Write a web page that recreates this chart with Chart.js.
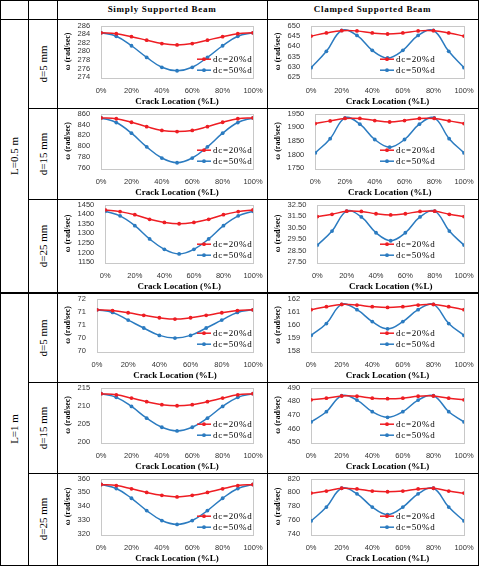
<!DOCTYPE html>
<html>
<head>
<meta charset="utf-8">
<script src="https://cdn.jsdelivr.net/npm/chart.js@4/dist/chart.umd.min.js"></script>
<style>
  body { margin: 0; background: #fff; width: 480px; height: 566px; position: relative; overflow: hidden; font-family: "Liberation Serif", serif; }
  .ln { position: absolute; background: #000; z-index: 2; }
  .cell { position: absolute; }
  .hdr { position: absolute; top: 4px; font-weight: bold; font-size: 9px; letter-spacing: 0.7px; text-align: center; }
  .rot { position: absolute; transform: translate(-50%, -50%) rotate(-90deg); white-space: nowrap; font-size: 11px; }
</style>
</head>
<body>
<div class="hdr" style="left:57px;width:210px;">Simply Supported Beam</div>
<div class="hdr" style="left:267px;width:211px;">Clamped Supported Beam</div>
<div class="rot" style="left:14px;top:156px;">L=0.5 m</div>
<div class="rot" style="left:14px;top:429px;">L=1 m</div>
<div id="wrap"></div>

<script>
// crack position along the beam (% of L)
const crackLocation = [0, 10, 20, 30, 40, 50, 60, 70, 80, 90, 100];
const seriesNames = ['dc=20%d', 'dc=50%d'];
const rowLabels = ['d=5 mm', 'd=15 mm', 'd=25 mm', 'd=5 mm', 'd=15 mm', 'd=25 mm'];

// L = 0.5 m, simply supported
const ssL05d5_20 = [284.3, 284.1, 283.4, 282.6, 281.8, 281.5, 281.8, 282.6, 283.4, 284.1, 284.3];
const ssL05d5_50 = [284.3, 283.5, 281.3, 278.6, 276.3, 275.5, 276.3, 278.6, 281.3, 283.5, 284.3];
const ssL05d15_20 = [852, 850.4, 844, 836, 829, 827, 829, 836, 844, 850.4, 852];
const ssL05d15_50 = [852, 843.5, 824, 799, 778.6, 770, 778.6, 799, 824, 843.5, 852];
const ssL05d25_20 = [1422, 1413, 1397, 1373, 1357, 1350, 1357, 1373, 1397, 1413, 1422];
const ssL05d25_50 = [1415, 1391, 1340, 1271, 1217, 1193, 1217, 1271, 1340, 1391, 1415];
// L = 0.5 m, clamped
const csL05d5_20 = [644.9, 646.4, 647.5, 647.4, 646.4, 645.9, 646.4, 647.4, 647.5, 646.4, 644.9];
const csL05d5_50 = [629.6, 637.5, 647.6, 645.2, 638.0, 634.3, 638.0, 645.2, 647.6, 637.5, 629.6];
const csL05d15_20 = [1913, 1923, 1932, 1932, 1924, 1919, 1924, 1932, 1932, 1923, 1913];
const csL05d15_50 = [1806, 1858, 1934, 1911, 1855, 1827, 1855, 1911, 1934, 1858, 1806];
const csL05d25_20 = [31.45, 31.65, 31.92, 31.9, 31.7, 31.6, 31.7, 31.9, 31.92, 31.65, 31.45];
const csL05d25_50 = [28.98, 30.2, 31.92, 31.42, 30.05, 29.36, 30.05, 31.42, 31.92, 30.2, 28.98];
// L = 1 m, simply supported
const ssL1d5_20 = [71.07, 71.04, 70.96, 70.86, 70.77, 70.72, 70.77, 70.86, 70.96, 71.04, 71.07];
const ssL1d5_50 = [71.07, 70.97, 70.68, 70.38, 70.1, 70.0, 70.1, 70.38, 70.68, 70.97, 71.07];
const ssL1d15_20 = [213.3, 213.0, 212.1, 211.1, 210.3, 210.0, 210.3, 211.1, 212.1, 213.0, 213.3];
const ssL1d15_50 = [213.3, 212.3, 209.8, 206.6, 204.1, 203.1, 204.1, 206.6, 209.8, 212.3, 213.3];
const ssL1d25_20 = [355.7, 354.9, 352.6, 350.0, 347.9, 346.8, 347.9, 350.0, 352.6, 354.9, 355.7];
const ssL1d25_50 = [355.7, 352.8, 345.8, 337.0, 329.8, 327.0, 329.8, 337.0, 345.8, 352.8, 355.7];
// L = 1 m, clamped
const csL1d5_20 = [161.15, 161.38, 161.55, 161.5, 161.38, 161.32, 161.38, 161.5, 161.55, 161.38, 161.15];
const csL1d5_50 = [159.2, 160.1, 161.55, 161.15, 160.25, 159.7, 160.25, 161.15, 161.55, 160.1, 159.2];
const csL1d15_20 = [481.0, 482.2, 483.8, 483.6, 482.2, 481.8, 482.2, 483.6, 483.8, 482.2, 481.0];
const csL1d15_50 = [464.8, 472.3, 484.0, 480.8, 472.3, 468.2, 472.3, 480.8, 484.0, 472.3, 464.8];
const csL1d25_20 = [799, 802, 806, 805, 802, 801, 802, 805, 806, 802, 799];
const csL1d25_50 = [759, 779, 806, 798, 779, 768, 779, 798, 806, 779, 759];

// y axis ranges per row: [min, max, step]
const ssAxes = [[274, 286, 2], [760, 860, 20], [1150, 1450, 50], [69.5, 71.5, 0.5], [200, 215, 5], [320, 360, 10]];
const csAxes = [[625, 650, 5], [1750, 1950, 50], [27.5, 32.5, 1], [158, 162, 1], [450, 490, 10], [740, 820, 20]];

const ssData = [[ssL05d5_20, ssL05d5_50], [ssL05d15_20, ssL05d15_50], [ssL05d25_20, ssL05d25_50],
                [ssL1d5_20, ssL1d5_50], [ssL1d15_20, ssL1d15_50], [ssL1d25_20, ssL1d25_50]];
const csData = [[csL05d5_20, csL05d5_50], [csL05d15_20, csL05d15_50], [csL05d25_20, csL05d25_50],
                [csL1d5_20, csL1d5_50], [csL1d15_20, csL1d15_50], [csL1d25_20, csL1d25_50]];

const RED = '#ee1d23';
const BLUE = '#2b7bc0';

// table geometry
const rowY = [20, 108, 199, 293, 382, 473, 565];
const colX = [0, 28, 57, 267, 478];

const wrap = document.getElementById('wrap');
function addLine(x, y, w, h) {
  const d = document.createElement('div');
  d.className = 'ln';
  d.style.cssText = `left:${x}px;top:${y}px;width:${w}px;height:${h}px;`;
  wrap.appendChild(d);
}
addLine(0, 0, 479, 1);
addLine(0, 19, 479, 1);
addLine(0, 292, 479, 2);
addLine(0, 565, 479, 1);
[1, 2, 4, 5].forEach(i => addLine(28, rowY[i], 451, 1));
colX.forEach(x => addLine(x, 0, 1, 566));

// box around plot area + legend inside the plot
const plotBox = {
  id: 'plotBox',
  beforeDatasetsDraw(chart) {
    const a = chart.chartArea, ctx = chart.ctx;
    ctx.save();
    ctx.strokeStyle = '#c8c8c8';
    ctx.lineWidth = 1;
    ctx.strokeRect(Math.round(a.left) + 0.5, Math.round(a.top) + 0.5, Math.round(a.right - a.left), Math.round(a.bottom - a.top));
    ctx.restore();
  }
};
const insideLegend = {
  id: 'insideLegend',
  afterDraw(chart, args, opts) {
    const ctx = chart.ctx;
    const bottom = chart.chartArea.bottom;
    chart.data.datasets.forEach((ds, i) => {
      const y = bottom - opts.dy[i];
      const x = opts.x;
      ctx.save();
      ctx.strokeStyle = ds.borderColor;
      ctx.lineWidth = 1.5;
      ctx.beginPath(); ctx.moveTo(x, y); ctx.lineTo(x + 14, y); ctx.stroke();
      ctx.fillStyle = ds.borderColor;
      ctx.beginPath(); ctx.arc(x + 7, y, 1.9, 0, Math.PI * 2); ctx.fill();
      ctx.fillStyle = '#000';
      ctx.font = '9px "Liberation Serif"';
      ctx.letterSpacing = '0.7px';
      ctx.textBaseline = 'middle';
      ctx.fillText(ds.label, x + 16, y);
      ctx.restore();
    });
  }
};

function fmtTick(v, step) {
  if (step === 0.5) return String(Math.round(v));
  if (step === 1 && v < 100) return v.toFixed(2);
  return String(v);
}

function makeChart(left, width, top, height, series, axis, legendX) {
  const box = document.createElement('div');
  box.className = 'cell';
  box.style.cssText = `left:${left}px;top:${top}px;width:${width}px;height:${height}px;`;
  const cv = document.createElement('canvas');
  box.appendChild(cv);
  wrap.appendChild(box);

  const datasets = series.map((vals, i) => ({
    label: seriesNames[i],
    data: crackLocation.map((c, k) => ({ x: c, y: vals[k] })),
    borderColor: i === 0 ? RED : BLUE,
    backgroundColor: i === 0 ? RED : BLUE,
    borderWidth: 1.5,
    pointRadius: 1.9,
    pointHoverRadius: 1.9,
    pointBorderWidth: 0,
    tension: 0.4,
    fill: false
  }));

  new Chart(cv, {
    type: 'line',
    data: { datasets: datasets },
    options: {
      responsive: true,
      maintainAspectRatio: false,
      animation: false,
      layout: { padding: { top: 0, right: 13, bottom: 0, left: 5 } },
      plugins: {
        legend: { display: false },
        tooltip: { enabled: false },
        insideLegend: { x: legendX, dy: [18, 7] }
      },
      scales: {
        x: {
          type: 'linear', min: 0, max: 100,
          grid: { display: false }, border: { display: false },
          ticks: { stepSize: 20, padding: 1, color: '#333', autoSkip: false, font: { family: 'Liberation Sans', size: 7.5 }, callback: v => v + '%', maxRotation: 0 },
          title: { display: true, text: 'Crack Location (%L)', color: '#000', padding: { top: 0, bottom: 0 }, font: { family: 'Liberation Serif', size: 9, weight: 'bold' } }
        },
        y: {
          min: axis[0], max: axis[1],
          grid: { display: false }, border: { display: false },
          ticks: { stepSize: axis[2], padding: 3, color: '#333', autoSkip: false, font: { family: 'Liberation Sans', size: 7.5 }, callback: v => fmtTick(v, axis[2]) },
          title: { display: true, text: 'ω (rad/sec)', color: '#000', padding: { top: 0, bottom: 2 }, font: { family: 'Liberation Serif', size: 8, weight: 'bold' } }
        }
      }
    },
    plugins: [plotBox, insideLegend]
  });
}

for (let r = 0; r < 6; r++) {
  // canvas starts a little above the row line so the plot sits near the top
  const top = rowY[r] - 2;
  const h = rowY[r + 1] - rowY[r] + 1;
  const lab = document.createElement('div');
  lab.className = 'rot';
  lab.style.left = '43px';
  lab.style.top = (rowY[r] + rowY[r + 1]) / 2 + 'px';
  lab.textContent = rowLabels[r];
  wrap.appendChild(lab);
  makeChart(58, 208, top, h, ssData[r], ssAxes[r], 139);
  makeChart(268, 209, top, h, csData[r], csAxes[r], 112);
}
</script>
</body>
</html>
